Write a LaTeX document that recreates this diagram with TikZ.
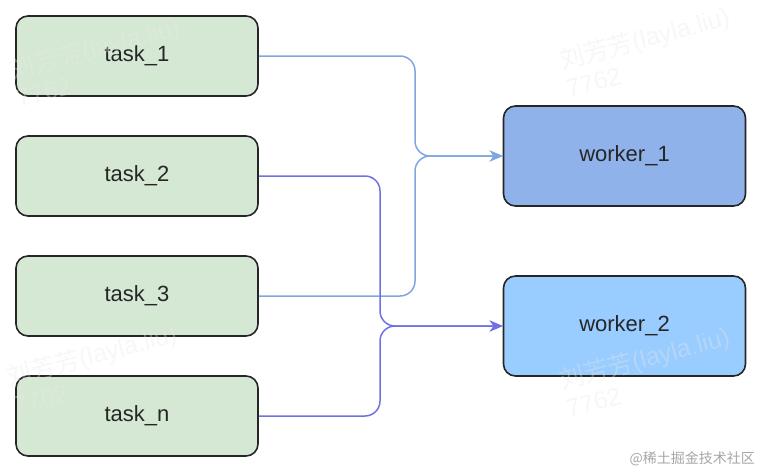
\documentclass[tikz,border=0pt]{standalone}
\usepackage{fontspec}
\setmainfont{Liberation Sans}
\newfontfamily\cjkfont{Noto Sans CJK SC}
\usetikzlibrary{arrows.meta}
\definecolor{taskfill}{HTML}{D5E8D4}
\definecolor{workA}{HTML}{8FB2EA}
\definecolor{workB}{HTML}{99CCFF}
\definecolor{lineA}{HTML}{7EA6E0}
\definecolor{lineB}{HTML}{7070E6}
\definecolor{wmcol}{HTML}{E8E8E8}
\begin{document}
\begin{tikzpicture}[x=1pt,y=-1pt,
  box/.style={draw=black!85, line width=1.6pt, rounded corners=12pt, minimum width=242pt, inner sep=0pt, font=\fontsize{22}{26}\selectfont, text=black!85},
  taskbox/.style={box, fill=taskfill, minimum height=80pt},
  workbox/.style={box, minimum height=100pt},
  linkA/.style={draw=lineA, line width=1.5pt, rounded corners=15pt},
  linkB/.style={draw=lineB, line width=1.5pt, rounded corners=15pt},
  tip/.style={-{Stealth[length=13pt,width=11pt,inset=4pt]}},
  wm/.style={text=wmcol, opacity=0.35, font=\fontsize{25}{28}\selectfont, rotate=15, anchor=base west, inner sep=0pt}]
\useasboundingbox (0,0) rectangle (762,474);
% nodes
\node[taskbox] (t1) at (137,56) {task\_1};
\node[taskbox] (t2) at (137,176) {task\_2};
\node[taskbox] (t3) at (137,296) {task\_3};
\node[taskbox] (tn) at (137,416) {task\_n};
\node[workbox, fill=workA] (w1) at (624.5,156) {worker\_1};
\node[workbox, fill=workB] (w2) at (624.5,326) {worker\_2};
% connectors
\draw[linkA, tip] (t1.east) -| (415,156) -- (w1.west);
\draw[linkA, tip] (t3.east) -| (415,156) -- (w1.west);
\draw[linkB, tip] (t2.east) -| (380,326) -- (w2.west);
\draw[linkB, tip] (tn.east) -| (380,326) -- (w2.west);
% watermarks
\node[wm] (wa1) at (12,80) {{\cjkfont 刘芳芳}(layla.liu)};
\node[wm] (wa2) at (19,108) {7762};
\node[wm] (wb1) at (562,70) {{\cjkfont 刘芳芳}(layla.liu)};
\node[wm] (wb2) at (569,98) {7762};
\node[wm] (wc1) at (9,387) {{\cjkfont 刘芳芳}(layla.liu)};
\node[wm] (wc2) at (16,415) {7762};
\node[wm] (wd1) at (562,390) {{\cjkfont 刘芳芳}(layla.liu)};
\node[wm] (wd2) at (569,418) {7762};
\node[text=black!35, font=\cjkfont\fontsize{14}{16}\selectfont, anchor=east, inner sep=0pt] (wm5) at (755,459) {@稀土掘金技术社区};
\end{tikzpicture}
\end{document}
